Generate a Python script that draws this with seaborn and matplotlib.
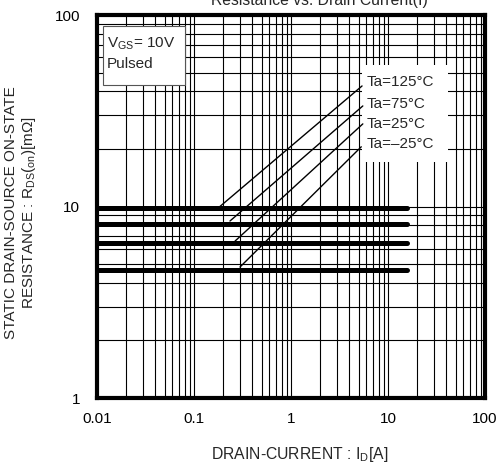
import matplotlib
matplotlib.use("Agg")
import matplotlib.pyplot as plt
from matplotlib.patches import Rectangle
from matplotlib.ticker import FixedLocator, FixedFormatter, LogLocator, NullFormatter
import numpy as np
import pandas as pd
import seaborn as sns

# Series data: on-resistance vs drain current for each ambient temperature
temp_labels = ["Ta=125°C", "Ta=75°C", "Ta=25°C", "Ta=\u201325°C"]
flat_current = [0.01, 15.7]
flat_resistance = [9.8, 8.1, 6.45, 4.66]
rise_start_current = [0.185, 0.235, 0.265, 0.298]
rise_start_resistance = [10.0, 8.4, 6.6, 4.83]
rise_end_current = [5.4, 5.5, 5.5, 5.3]
rise_end_resistance = [42.6, 33.5, 27.0, 20.5]
label_resistance = [44.7, 34.3, 27.0, 21.2]

x_ticks = [0.01, 0.1, 1, 10, 100]
x_tick_labels = ["0.01", "0.1", "1", "10", "100"]
y_ticks = [1, 10, 100]
y_tick_labels = ["1", "10", "100"]

FS = 11

sns.set_style("white")
plt.rcParams["font.family"] = ["Liberation Sans", "DejaVu Sans"]
plt.rcParams["mathtext.fontset"] = "custom"
plt.rcParams["mathtext.rm"] = "Liberation Sans"
plt.rcParams["mathtext.it"] = "Liberation Sans:italic"
plt.rcParams["mathtext.bf"] = "Liberation Sans:bold"

flat_df = pd.DataFrame({
    "current": np.tile(flat_current, len(temp_labels)),
    "resistance": np.repeat(flat_resistance, len(flat_current)),
    "temp": np.repeat(temp_labels, len(flat_current)),
})
rise_df = pd.DataFrame({
    "current": np.ravel(np.column_stack([rise_start_current, rise_end_current])),
    "resistance": np.ravel(np.column_stack([rise_start_resistance, rise_end_resistance])),
    "temp": np.repeat(temp_labels, 2),
})

fig = plt.figure(figsize=(4.99, 4.66), dpi=100)
ax = fig.add_axes([97 / 499, 68 / 466, 388 / 499, 383 / 466])
ax.set_xscale("log")
ax.set_yscale("log")
ax.set_xlim(0.01, 100)
ax.set_ylim(1, 100)

# Full log grid in black
ax.xaxis.set_minor_locator(LogLocator(base=10, subs=np.arange(2, 10)))
ax.yaxis.set_minor_locator(LogLocator(base=10, subs=np.arange(2, 10)))
ax.xaxis.set_minor_formatter(NullFormatter())
ax.yaxis.set_minor_formatter(NullFormatter())
ax.grid(True, which="both", color="black", linewidth=0.8, zorder=1)
ax.set_axisbelow(True)

sns.lineplot(data=flat_df, x="current", y="resistance", units="temp", estimator=None,
             color="black", linewidth=3.6, solid_capstyle="round", ax=ax, zorder=4)
sns.lineplot(data=rise_df, x="current", y="resistance", units="temp", estimator=None,
             color="black", linewidth=1.0, ax=ax, zorder=4)

# White panel behind the temperature labels
ax.add_patch(Rectangle((5.4, 17.1), 41.6 - 5.4, 54.8 - 17.1, facecolor="white",
                       edgecolor="none", zorder=2))
for lab, r in zip(temp_labels, label_resistance):
    ax.text(6.05, r, lab, fontsize=FS, ha="left", va="center", zorder=5)

# Test-condition box
ax.add_patch(Rectangle((0.0155, 0.817), 0.2115, 0.154, transform=ax.transAxes,
                       facecolor="white", edgecolor="#555555", linewidth=0.8, zorder=2))
ax.text(0.026, 0.925, "V$_\\mathregular{GS}$= 10V", transform=ax.transAxes,
        fontsize=FS, ha="left", va="center", zorder=5)
ax.text(0.026, 0.873, "Pulsed", transform=ax.transAxes,
        fontsize=FS, ha="left", va="center", zorder=5)

ax.xaxis.set_major_locator(FixedLocator(x_ticks))
ax.xaxis.set_major_formatter(FixedFormatter(x_tick_labels))
ax.yaxis.set_major_locator(FixedLocator(y_ticks))
ax.yaxis.set_major_formatter(FixedFormatter(y_tick_labels))
ax.tick_params(axis="both", which="major", direction="in", length=3, width=1,
               labelsize=FS, colors="black")
ax.tick_params(axis="x", which="major", pad=10)
ax.tick_params(axis="y", which="major", pad=12)
ax.tick_params(axis="both", which="minor", length=0)
ax.set_xlabel("")
ax.set_ylabel("")

for spine in ax.spines.values():
    spine.set_visible(True)
    spine.set_color("black")
    spine.set_linewidth(3)
    spine.set_zorder(6)

fig.text(300 / 499, 1 - 455 / 466, "DRAIN-CURRENT : I$_\\mathregular{D}$[A]",
         fontsize=11.3, ha="center", va="center")
fig.text(21 / 499, 1 - 213 / 466,
         "STATIC DRAIN-SOURCE ON-STATE\nRESISTANCE : R$_\\mathregular{DS}$($_\\mathregular{on}$)[m\u03a9]",
         fontsize=11, ha="center", va="center", rotation=90, multialignment="center",
         linespacing=1.1)
fig.text(319 / 499, 1 - 5 / 466, "Resistance vs. Drain Current(\u2160)",
         fontsize=11.3, ha="center", va="baseline")

fig.savefig("out.png", dpi=100)
